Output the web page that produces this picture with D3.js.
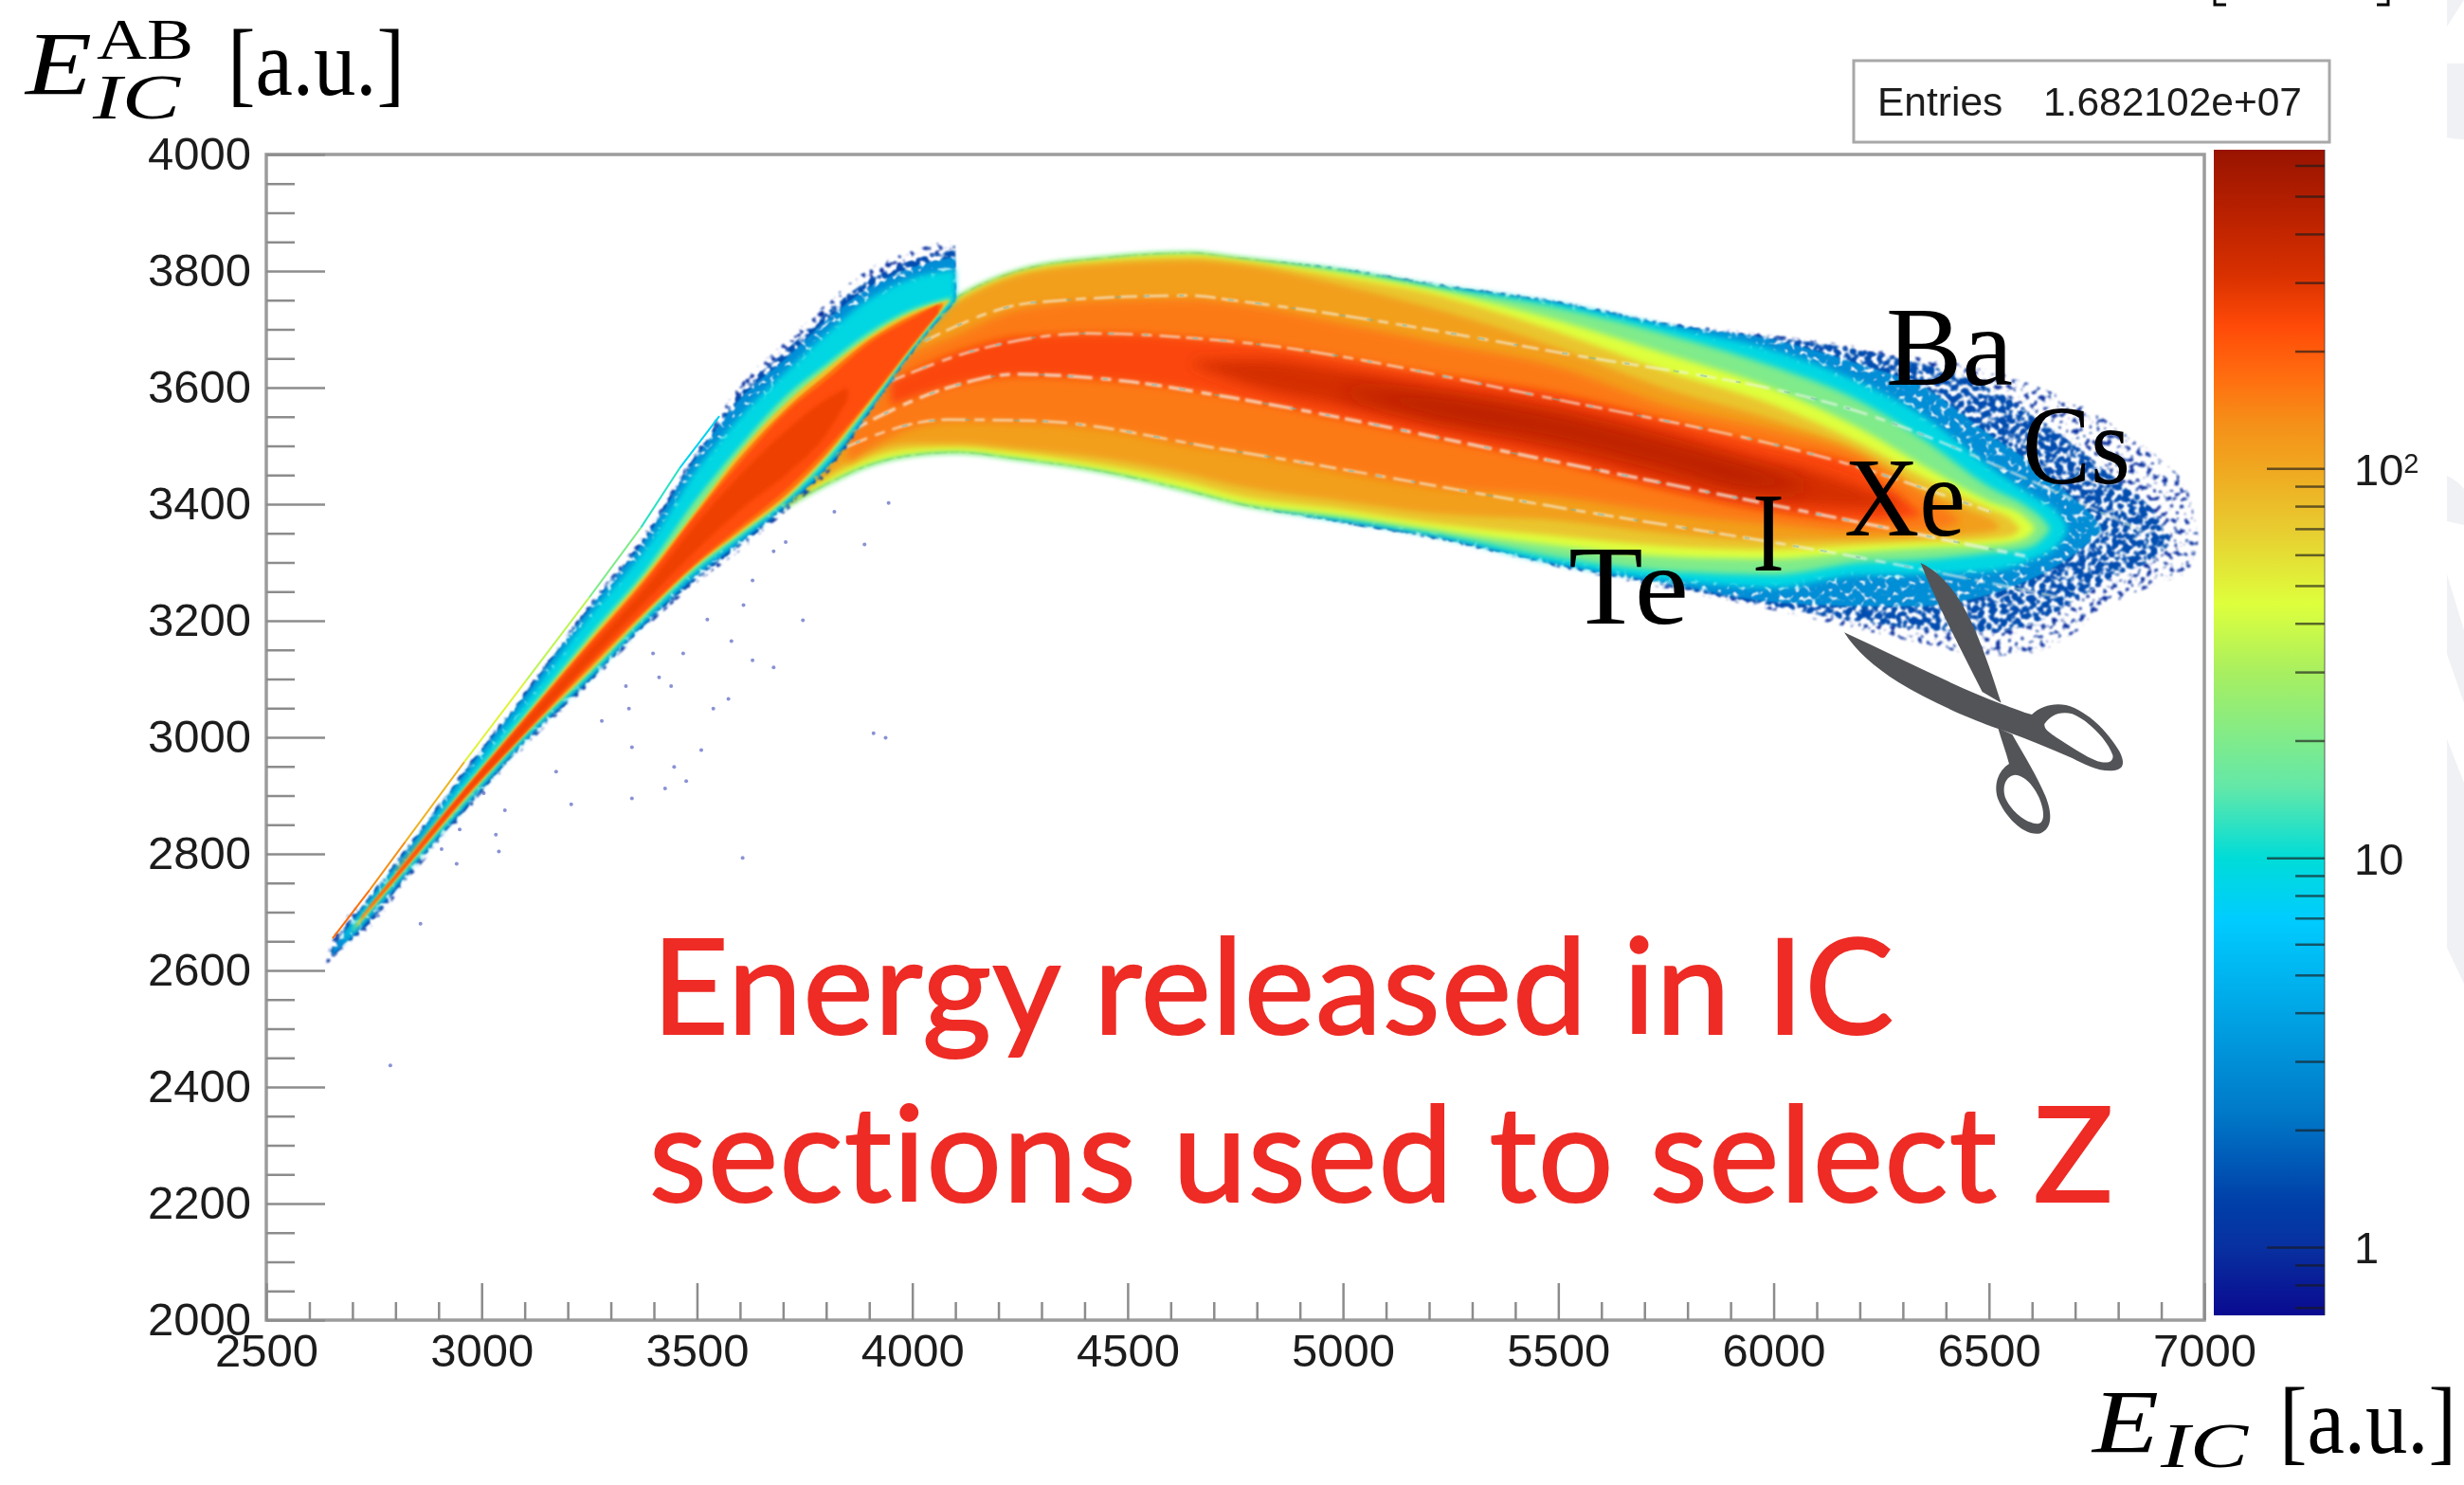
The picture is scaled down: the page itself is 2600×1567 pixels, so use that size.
<!DOCTYPE html>
<html>
<head>
<meta charset="utf-8">
<style>
  html, body { margin: 0; padding: 0; background: #fff; }
  svg { display: block; }
  text { font-family: "Liberation Sans", sans-serif; fill: #1c1c1c; }
  .serif { font-family: "Liberation Serif", serif; fill: #000; }
  .ital { font-style: italic; }
  .big { font-family: Lato, sans-serif; fill: #ee2b25; stroke: #ee2b25; stroke-width: 2px; font-variant-ligatures: none; }
  .axis path.domain { display: none; }
  .axis line { stroke: #8c8c8c; stroke-width: 2.5; }
  .axis text { font-size: 49px; font-family: "Liberation Sans", sans-serif; fill: #1c1c1c; }
  .pal line { stroke: #1a1a1a; stroke-opacity: .65; stroke-width: 2.5; }
</style>
</head>
<body>
<svg id="chart" width="2600" height="1567"></svg>
<script src="https://d3js.org/d3.v7.min.js"></script>
<script>
// Axis ticks
const xMajor = [2500, 3000, 3500, 4000, 4500, 5000, 5500, 6000, 6500, 7000];
const yMajor = [2000, 2200, 2400, 2600, 2800, 3000, 3200, 3400, 3600, 3800, 4000];
const paletteMinor = [0.7, 0.8, 0.9, 2, 3, 4, 5, 6, 7, 8, 9, 20, 30, 40, 50, 60, 70, 80, 90, 200, 300, 400, 500, 600];
const paletteMajor = [1, 10, 100];

// Colour palette, counts and the colour the bar has there
const paletteCounts = [0.67, 1, 1.32, 2.2, 4.2, 6.95, 10, 15.3, 30, 45, 70, 100, 132, 168, 233, 315, 459, 660];
const paletteColors = ["#0a0a90", "#0830a0", "#0040a8", "#0078c8", "#00a8e8", "#00ccff", "#00dcd8", "#64e8a8",
  "#a8ef60", "#deff3c", "#e8cc30", "#f0a820", "#f58f18", "#ff7010", "#ff4a08", "#d83000", "#b82000", "#981400"];

const leftRim = [[3700,3425,3395],[3800,3540,3435],[3900,3630,3468],[4000,3700,3485],[4100,3752,3490],[4250,3800,3478],[4450,3822,3456],[4650,3830,3422],[4750,3822,3403]];

const main01 = leftRim.concat([[5000,3804,3368],[5200,3780,3342],[5500,3748,3292],[5750,3712,3255],[6000,3690,3218],[6200,3670,3185],[6350,3650,3160],[6500,3630,3140],[6600,3605,3145],[6700,3575,3180],[6800,3530,3235],[6900,3475,3265],[6960,3425,3285],[6985,3350,3330]]);
const main02 = leftRim.concat([[5000,3803,3368],[5200,3778,3344],[5500,3746,3295],[5750,3710,3260],[6000,3686,3225],[6200,3664,3198],[6350,3640,3185],[6500,3600,3180],[6600,3555,3195],[6700,3500,3235],[6800,3440,3280],[6880,3390,3305],[6920,3345,3330]]);
const main03 = leftRim.concat([[5000,3802,3370],[5200,3777,3346],[5500,3745,3297],[5750,3708,3264],[6000,3682,3232],[6200,3640,3225],[6350,3600,3225],[6500,3520,3245],[6600,3470,3272],[6680,3420,3305],[6740,3380,3340],[6760,3360,3355]]);
const main04 = leftRim.concat([[5000,3801,3372],[5200,3776,3348],[5500,3744,3298],[5750,3705,3270],[6000,3664,3257],[6200,3609,3278],[6350,3550,3280],[6500,3465,3285],[6600,3415,3305],[6660,3385,3330],[6680,3365,3350]]);
const main05 = leftRim.concat([[5000,3800,3376],[5200,3774,3352],[5500,3737,3308],[5750,3692,3285],[6000,3636,3279],[6200,3577,3300],[6350,3510,3305],[6500,3430,3316],[6590,3395,3325],[6630,3370,3345],[6640,3360,3355]]);
const main06 = leftRim.concat([[5000,3797,3380],[5200,3770,3358],[5500,3715,3328],[5750,3658,3310],[6000,3598,3306],[6200,3530,3318],[6350,3465,3325],[6500,3405,3330],[6580,3380,3340],[6605,3362,3355]]);
const main07 = [[3700,3422,3397],[3800,3538,3442],[3900,3628,3478],[4000,3698,3495],[4100,3748,3498],[4250,3797,3488],[4450,3818,3465],[4650,3825,3435],[4750,3818,3415],[5000,3790,3390],[5200,3762,3368],[5500,3695,3345],[5750,3628,3328],[6000,3570,3322],[6200,3505,3330],[6350,3445,3335],[6500,3392,3340],[6550,3375,3345],[6570,3360,3355]];
const main08 = [[3700,3420,3398],[3800,3535,3450],[3900,3625,3490],[4000,3695,3505],[4100,3745,3505],[4250,3793,3495],[4450,3812,3478],[4650,3818,3450],[4750,3812,3432],[5000,3775,3405],[5200,3738,3385],[5500,3668,3372],[5750,3598,3350],[6000,3545,3338],[6200,3490,3340],[6350,3425,3345],[6470,3385,3350],[6510,3372,3355],[6525,3362,3360]];
const main09 = [[3850,3580,3470],[4000,3660,3530],[4100,3690,3542],[4250,3735,3540],[4450,3750,3528],[4650,3752,3500],[4750,3745,3490],[5000,3710,3455],[5200,3680,3430],[5500,3635,3412],[5750,3570,3385],[6000,3528,3365],[6200,3483,3353],[6350,3415,3355],[6430,3375,3368]];
const main10 = [[3950,3610,3570],[4100,3660,3605],[4250,3688,3620],[4450,3693,3612],[4650,3685,3595],[4750,3678,3582],[5000,3650,3545],[5200,3625,3515],[5500,3590,3470],[5750,3545,3425],[6000,3501,3388],[6200,3465,3372],[6280,3420,3375],[6340,3385,3380]];
const main11 = [[4650,3645,3640],[4800,3648,3600],[5000,3630,3568],[5200,3605,3535],[5500,3568,3488],[5750,3525,3440],[5950,3482,3408],[6100,3455,3395],[6250,3415,3392],[6300,3402,3400]];
const main12 = [[5000,3598,3592],[5200,3583,3555],[5500,3545,3515],[5750,3500,3470],[5950,3460,3430],[6070,3435,3425]];

const diag01 = [[2640,2620,2610],[2650,2645,2618],[2750,2738,2680],[2823,2808,2750],[2960,2945,2868],[3103,3082,2985],[3250,3228,3090],[3384,3356,3190],[3500,3494,3265],[3600,3604,3320],[3713,3684,3392],[3800,3744,3450],[3900,3804,3555],[4000,3834,3660],[4095,3852,3745],[4100,3852,3748]];
const diag02 = [[2650,2642,2622],[2750,2736,2690],[2823,2806,2758],[2960,2942,2875],[3103,3078,2992],[3250,3224,3096],[3384,3350,3196],[3500,3488,3272],[3600,3590,3328],[3713,3668,3398],[3800,3728,3456],[3900,3785,3558],[4000,3818,3662],[4100,3836,3748]];
const diag03 = [[2655,2640,2628],[2750,2732,2696],[2823,2802,2764],[2960,2938,2880],[3103,3074,2996],[3250,3220,3100],[3384,3344,3200],[3500,3482,3278],[3600,3580,3335],[3713,3655,3402],[3800,3715,3462],[3900,3772,3560],[4000,3806,3664],[4100,3825,3750]];
const diag04 = [[2680,2660,2650],[2823,2794,2768],[2960,2928,2884],[3103,3062,3000],[3250,3208,3104],[3384,3328,3205],[3500,3460,3284],[3600,3550,3340],[3713,3632,3406],[3800,3692,3466],[3900,3752,3564],[4000,3788,3666],[4100,3802,3750]];
const diag05 = [[2700,2672,2665],[2823,2788,2772],[2960,2915,2888],[3103,3042,3004],[3250,3175,3108],[3384,3290,3210],[3500,3410,3290],[3600,3500,3345],[3713,3590,3410],[3800,3640,3474],[3900,3695,3568],[4000,3735,3668],[4090,3755,3750]];
const diag06 = [[2710,2680,2675],[2823,2786,2775],[2960,2912,2892],[3103,3038,3007],[3250,3168,3112],[3384,3282,3214],[3500,3392,3295],[3600,3490,3350],[3713,3578,3414],[3800,3632,3480],[3900,3688,3572],[4000,3730,3670],[4085,3750,3748]];
const diag07 = [[2720,2692,2688],[2823,2785,2776],[2960,2910,2896],[3103,3035,3009],[3250,3162,3118],[3384,3276,3218],[3500,3387,3298],[3600,3480,3355],[3713,3568,3420],[3800,3622,3485],[3900,3682,3576],[4000,3724,3672],[4070,3745,3738]];
const diag08 = [[2740,2710,2708],[2823,2783,2778],[2960,2908,2898],[3103,3032,3011],[3250,3158,3125],[3384,3270,3222],[3500,3382,3302],[3600,3470,3362],[3713,3560,3430],[3800,3612,3495],[3900,3675,3580],[4000,3718,3675],[4060,3742,3728]];
const diag09 = [[2800,2772,2769],[2960,2906,2900],[3103,3028,3014],[3250,3150,3130],[3384,3260,3235],[3500,3368,3322],[3600,3450,3390],[3713,3530,3455],[3800,3580,3520],[3850,3600,3580]];

const mainLevels = [main01, main02, main03, main04, main05, main06, main07, main08, main09, main10, main11, main12];
const mainCounts = [1, 1.5, 3, 9, 20, 45, 75, 110, 155, 240, 330, 480];
const diagLevels = [diag01, diag02, diag03, diag04, diag05, diag06, diag07, diag08, diag09];
const diagCounts = [1, 1.5, 3, 9, 20, 75, 170, 225, 265];

// The light gaps between the charges
const gap1 = [[4029,3680],[4282,3746],[4648,3758],[4742,3750],[5480,3663],[6217,3554],[6659,3420],[6855,3354]];
const gap2 = [[3946,3610],[4142,3663],[4408,3693],[4731,3680],[5480,3582],[6217,3459],[6503,3387]];
const gap3 = [[3860,3527],[4084,3600],[4241,3623],[4507,3610],[4731,3584],[5480,3475],[6217,3366],[6584,3311]];
const gap4 = [[3792,3480],[4084,3545],[4282,3543],[4731,3493],[5480,3397],[6217,3306],[6659,3241]];
const gaps = [gap1, gap2, gap3, gap4];

// Thin line above the steep band: [E_IC, E_AB, count]
const thinLine = [[2654,2655,170],[2740,2738,130],[2823,2821,90],[2960,2958,50],[3103,3097,35],[3250,3240,20],[3370,3360,12],[3460,3462,8],[3552,3551,4]];

// Stray single entries
const strayX = [2788,2858,2942,3040,3033,2949,2907,3005,3054,3208,3349,3426,3475,3447,3510,3349,3173,3279,3342,3440,3335,3573,3538,3910,3938,3606,3412,3398,3468,3524,3580,3629,3678,3746,3608,3629,3678,3819,3889,3945,3706];
const strayY = [2437,2680,2783,2804,2833,2842,2808,2904,2875,2885,2895,2912,2925,2949,2978,2983,2941,3028,3049,3088,3088,3066,3049,3007,2999,2793,3103,3144,3144,3202,3165,3132,3120,3201,3227,3269,3319,3387,3331,3402,3335];

const elements = ["Ba", "Cs", "Xe", "I", "Te"];
const elementLeft = [1990, 2134, 1946, 1849, 1655];
const elementBase = [406, 510, 565, 602, 658];
const elementWidth = [134, 114, 128, 34, 127];

const width = 2600;
const height = 1567;
const frame = {left: 281, right: 2326, top: 163, bottom: 1393};

const svg = d3.select("#chart");
const x = d3.scaleLinear().domain([2500, 7000]).range([frame.left, frame.right]);
const y = d3.scaleLinear().domain([2000, 4000]).range([frame.bottom, frame.top]);
const z = d3.scaleLog().domain([0.67, 660]).range([1388, 158]);
const palette = d3.scaleLog().domain(paletteCounts).range(paletteColors).clamp(true);

// filters, so the contours melt together and the outer ones break up in single bins
const defs = svg.append("defs");
function addBlur(id, s) {
  defs.append("filter").attr("id", id)
    .attr("filterUnits", "userSpaceOnUse").attr("x", -1600).attr("y", -1600).attr("width", width + 3200).attr("height", height + 3200)
    .append("feGaussianBlur").attr("stdDeviation", s);
}
[["b05", 0.6], ["b1", 1.3], ["b2", 2.2], ["b3", 3.2], ["b4", 4], ["b7", 7], ["b10", 10]].forEach(d => addBlur(d[0], d[1]));

function addSpeckle(id, gain, cut, freq) {
  const f = defs.append("filter").attr("id", id)
    .attr("filterUnits", "userSpaceOnUse").attr("x", 0).attr("y", 0).attr("width", width).attr("height", height);
  f.append("feTurbulence").attr("type", "fractalNoise").attr("baseFrequency", freq).attr("numOctaves", 2).attr("seed", 11).attr("result", "n");
  f.append("feColorMatrix").attr("in", "n").attr("type", "matrix")
    .attr("values", `0 0 0 0 0  0 0 0 0 0  0 0 0 0 0  ${gain} 0 0 0 ${-cut}`).attr("result", "m");
  f.append("feComposite").attr("in", "SourceGraphic").attr("in2", "m").attr("operator", "in").attr("result", "c");
  f.append("feGaussianBlur").attr("in", "c").attr("stdDeviation", 0.8);
}
addSpeckle("sparse", 10, 5.6, 0.17);
addSpeckle("dense", 10, 4.2, 0.17);
addSpeckle("mottle", 10, 3.2, 0.17);

const grad = defs.append("linearGradient").attr("id", "paletteGrad")
  .attr("gradientUnits", "userSpaceOnUse").attr("x1", 0).attr("x2", 0).attr("y1", z(0.67)).attr("y2", z(660));
paletteCounts.forEach((c, i) => {
  grad.append("stop").attr("offset", (z(c) - z(0.67)) / (z(660) - z(0.67))).attr("stop-color", paletteColors[i]);
});

// faint pieces of the slide background at the right edge
const slideBits = [
  "M2560,0 L2600,0 L2582,28 L2582,0 Z",
  "M2582,67 L2600,67 L2600,147 Q2590,147 2582,145 Z",
  "M2582,502 Q2592,506 2600,516 L2600,554 L2582,550 Z",
  "M2582,606 L2600,665 L2600,742 L2582,690 Z",
  "M2582,780 L2600,826 L2600,1038 L2582,1000 Z"
];
svg.append("g").selectAll("path").data(slideBits).join("path").attr("d", d => d).attr("fill", "#f0f1f4");

// frame
svg.append("rect").attr("x", frame.left).attr("y", frame.top)
  .attr("width", frame.right - frame.left).attr("height", frame.bottom - frame.top)
  .attr("fill", "#fff").attr("stroke", "#9c9c9c").attr("stroke-width", 3.5);

// histogram contours
const area = d3.area()
  .x(d => x(d[0]))
  .y0(d => y(d[2]))
  .y1(d => y(d[1]))
  .curve(d3.curveMonotoneX);

const mainFilters = ["sparse", "dense", "mottle", "b3", "b3", "b3", "b3", "b3", "b4", "b4", "b7", "b10"];
const diagFilters = ["sparse", "dense", "mottle", "b3", "b2", "b1", "b1", "b1", "b2"];

const hist = svg.append("g");
hist.selectAll(".main").data(mainLevels).join("path")
  .attr("class", "main")
  .attr("d", area)
  .attr("fill", (d, i) => palette(mainCounts[i]))
  .attr("filter", (d, i) => `url(#${mainFilters[i]})`);

// gaps between the bands
const gapLine = d3.line().x(d => x(d[0])).y(d => y(d[1])).curve(d3.curveMonotoneX);
hist.selectAll(".gap").data(gaps).join("path")
  .attr("class", "gap")
  .attr("d", gapLine)
  .attr("fill", "none")
  .attr("stroke", "#f4f6ee")
  .attr("stroke-width", (d, i) => i == 2 ? 3.5 : 2.5)
  .attr("stroke-opacity", .7)
  .attr("stroke-dasharray", "18 7 26 9 11 8 22 6")
  .attr("filter", "url(#b1)");
hist.selectAll(".gapdot").data(gaps).join("path")
  .attr("class", "gapdot")
  .attr("d", gapLine)
  .attr("fill", "none")
  .attr("stroke", "#6fb6b0")
  .attr("stroke-width", 2)
  .attr("stroke-opacity", .5)
  .attr("stroke-dasharray", "7 31 5 47 6 23");

hist.selectAll(".diag").data(diagLevels).join("path")
  .attr("class", "diag")
  .attr("d", area)
  .attr("fill", (d, i) => palette(diagCounts[i]))
  .attr("filter", (d, i) => `url(#${diagFilters[i]})`);

hist.selectAll(".thin").data(d3.pairs(thinLine)).join("line")
  .attr("class", "thin")
  .attr("x1", d => x(d[0][0])).attr("y1", d => y(d[0][1]))
  .attr("x2", d => x(d[1][0])).attr("y2", d => y(d[1][1]))
  .attr("stroke", d => palette(d[0][2]))
  .attr("stroke-width", 2);

hist.selectAll(".stray").data(strayX).join("circle")
  .attr("class", "stray")
  .attr("cx", d => x(d))
  .attr("cy", (d, i) => y(strayY[i]))
  .attr("r", 2)
  .attr("fill", "#2838b0")
  .attr("fill-opacity", .55);

// axes, ticks point into the frame
const yMinor = d3.range(2000, 4001, 50).filter(v => v % 200 != 0);
const xMinor = d3.range(2500, 7001, 100).filter(v => v % 500 != 0);

svg.append("g").attr("class", "axis").attr("transform", `translate(${frame.left},0)`)
  .call(d3.axisLeft(y).tickValues(yMinor).tickSize(-30).tickFormat(""));
svg.append("g").attr("class", "axis").attr("transform", `translate(${frame.left},0)`).attr("filter", "url(#b05)")
  .call(d3.axisLeft(y).tickValues(yMajor).tickSize(-62).tickPadding(16).tickFormat(d3.format("d")));
svg.append("g").attr("class", "axis").attr("transform", `translate(0,${frame.bottom})`)
  .call(d3.axisBottom(x).tickValues(xMinor).tickSize(-19).tickFormat(""));
svg.append("g").attr("class", "axis").attr("transform", `translate(0,${frame.bottom})`).attr("filter", "url(#b05)")
  .call(d3.axisBottom(x).tickValues(xMajor).tickSize(-39).tickPadding(14).tickFormat(d3.format("d")));

// palette
const palX0 = 2336, palX1 = 2453;
svg.append("rect").attr("x", palX0).attr("y", z(660)).attr("width", palX1 - palX0).attr("height", z(0.67) - z(660))
  .attr("fill", "url(#paletteGrad)");
svg.append("g").attr("class", "pal").selectAll("line").data(paletteMinor).join("line")
  .attr("x1", palX1 - 31).attr("x2", palX1).attr("y1", d => z(d)).attr("y2", d => z(d));
svg.append("g").attr("class", "pal").selectAll("line").data(paletteMajor).join("line")
  .attr("x1", palX1 - 61).attr("x2", palX1).attr("y1", d => z(d)).attr("y2", d => z(d));
svg.append("line").attr("x1", palX1).attr("x2", palX1).attr("y1", z(660)).attr("y2", z(0.67))
  .attr("stroke", "#333").attr("stroke-opacity", .5).attr("stroke-width", 1.5);

const palLabels = svg.append("g").style("font-size", "47px").attr("filter", "url(#b05)");
paletteMajor.forEach(d => {
  const t = palLabels.append("text").attr("x", 2484).attr("y", z(d)).attr("dy", "0.36em");
  if (d == 100) {
    t.text("10");
    t.append("tspan").attr("dy", "-0.42em").style("font-size", "29px").text("2");
  } else {
    t.text(d);
  }
});

// stats box
svg.append("rect").attr("x", 1956).attr("y", 64).attr("width", 502).attr("height", 86)
  .attr("fill", "#fff").attr("stroke", "#a8a8a8").attr("stroke-width", 3);
const statBox = svg.append("g").attr("filter", "url(#b05)");
statBox.append("text").attr("x", 1981).attr("y", 122).style("font-size", "42.5px").text("Entries");
statBox.append("text").attr("x", 2429).attr("y", 122).attr("text-anchor", "end").style("font-size", "42.5px").text("1.682102e+07");

// axis titles
function tex(cls, txt, left, base, size, w) {
  svg.append("text").attr("class", cls).attr("x", left).attr("y", base)
    .attr("textLength", w).attr("lengthAdjust", "spacingAndGlyphs")
    .style("font-size", size + "px").text(txt);
}
tex("serif ital", "E", 27, 100, 96, 70);
tex("serif", "AB", 102, 62, 62, 102);
tex("serif ital", "IC", 98, 125, 68, 92);
tex("serif", "[a.u.]", 240, 100, 100, 187);

tex("serif ital", "E", 2208, 1533, 96, 70);
tex("serif ital", "IC", 2280, 1548, 68, 92);
tex("serif", "[a.u.]", 2405, 1533, 100, 187);

// bits of a bracket cut by the top of the picture
svg.append("path").attr("d", "M2337,0 V5 H2349 M2508,5 H2520 V0").attr("fill", "none").attr("stroke", "#000").attr("stroke-width", 3);

// element names
elements.forEach((e, i) => tex("serif", e, elementLeft[i], elementBase[i], 118, elementWidth[i]));

// scissors, traced at 3x
const scissors = svg.append("g").attr("transform", "translate(1920,590) scale(0.3333)").attr("fill", "#535457").attr("fill-rule", "evenodd");
scissors.append("path").attr("d", "M320,12 C400,50 450,130 490,220 C525,300 550,380 575,455 L515,420 C450,290 370,140 320,12 Z");
scissors.append("path").attr("d", "M565,535 L610,555 C650,625 690,690 715,750 C735,800 740,850 700,868 C650,880 590,820 565,760 C550,715 565,670 600,648 C590,610 575,570 565,535 Z M620,683 C590,685 575,720 590,760 C610,800 650,835 690,838 C715,835 712,795 695,755 C680,720 650,685 620,683 Z");
scissors.append("path").attr("d", "M78,232 C250,310 420,400 575,458 C610,470 645,485 672,492 C700,465 740,455 780,462 C850,480 915,550 950,610 C970,650 960,668 925,670 C880,672 840,650 800,630 C730,600 660,570 590,545 C480,510 350,450 250,390 C170,340 115,290 78,232 Z M712,522 C730,495 760,480 800,490 C850,510 910,570 928,620 C932,640 915,650 880,640 C840,625 790,590 750,565 C730,550 710,540 712,522 Z");

// slide text
svg.append("text").attr("class", "big").attr("x", 688).attr("y", 1091)
  .attr("textLength", 1310).attr("lengthAdjust", "spacing")
  .style("font-size", "140px").text("Energy released in IC");
svg.append("text").attr("class", "big").attr("x", 685).attr("y", 1268)
  .attr("textLength", 1545).attr("lengthAdjust", "spacing")
  .style("font-size", "140px").text("sections used to select Z");
</script>
</body>
</html>
